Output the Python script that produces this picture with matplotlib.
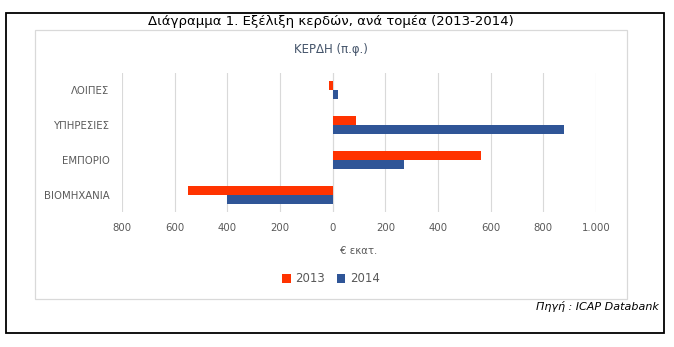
import numpy as np
import matplotlib.pyplot as plt
from matplotlib.patches import Rectangle
from matplotlib.ticker import FuncFormatter

plt.rcParams['font.family'] = ['DejaVu Sans']

sectors = ['ΒΙΟΜΗΧΑΝΙΑ', 'ΕΜΠΟΡΙΟ', 'ΥΠΗΡΕΣΙΕΣ', 'ΛΟΙΠΕΣ']
profit_2013 = [-550, 565, 90, -15]
profit_2014 = [-400, 270, 880, 20]
years = ['2013', '2014']
xticks = [-800, -600, -400, -200, 0, 200, 400, 600, 800, 1000]

red = '#FF3300'
blue = '#2F5597'

W, H = 674, 347
fig = plt.figure(figsize=(W / 100, H / 100), dpi=100)

# outer frame and inner chart frame (pixels -> figure coords)
def box(x0, y0, x1, y1, color, lw):
    fig.patches.append(Rectangle((x0 / W, 1 - y1 / H), (x1 - x0) / W, (y1 - y0) / H,
                                 transform=fig.transFigure, fill=False,
                                 edgecolor=color, linewidth=lw))

box(6, 13, 664, 333, 'black', 1.3)
box(35, 30, 627, 299, '#D9D9D9', 0.9)

ax = fig.add_axes([122 / W, 1 - 212 / H, (596 - 122) / W, (212 - 73) / H])

y = np.arange(len(sectors))
h = 0.26
ax.barh(y + h / 2, profit_2013, height=h, color=red, label=years[0])
ax.barh(y - h / 2, profit_2014, height=h, color=blue, label=years[1])

ax.set_xlim(-800, 1000)
ax.set_ylim(-0.5, len(sectors) - 0.5)
ax.set_xticks(xticks)
ax.xaxis.set_major_formatter(FuncFormatter(lambda v, p: f'{abs(int(v)):,}'.replace(',', '.')))
ax.set_yticks(y)
ax.set_yticklabels(sectors)
ax.tick_params(axis='both', length=0, labelsize=7.3, labelcolor='#595959')
ax.tick_params(axis='x', pad=8)
ax.tick_params(axis='y', pad=9)
ax.grid(axis='x', color='#D9D9D9', linewidth=0.8)
ax.set_axisbelow(True)
ax.axvline(0, color='#D9D9D9', linewidth=0.8, zorder=0)
for s in ax.spines.values():
    s.set_visible(False)
ax.set_xlabel('€ εκατ.', fontsize=7.3, color='#595959', labelpad=9)

fig.text(331 / W, 1 - 21 / H, 'Διάγραμμα 1. Εξέλιξη κερδών, ανά τομέα (2013-2014)',
         ha='center', va='center', fontsize=9.5)
fig.text(331 / W, 1 - 50 / H, 'ΚΕΡΔΗ (π.φ.)', ha='center', va='center',
         fontsize=8.5, color='#44546A')

fig.legend(loc='center', bbox_to_anchor=(331 / W, 1 - 279 / H), ncol=2, frameon=False,
           fontsize=8.5, handlelength=0.7, handleheight=0.7, columnspacing=1.0,
           handletextpad=0.4, labelcolor='#595959')

fig.text(659 / W, 1 - 307 / H, 'Πηγή : ICAP Databank', ha='right', va='center',
         fontsize=8, style='italic')

fig.savefig('out.png', dpi=100)
